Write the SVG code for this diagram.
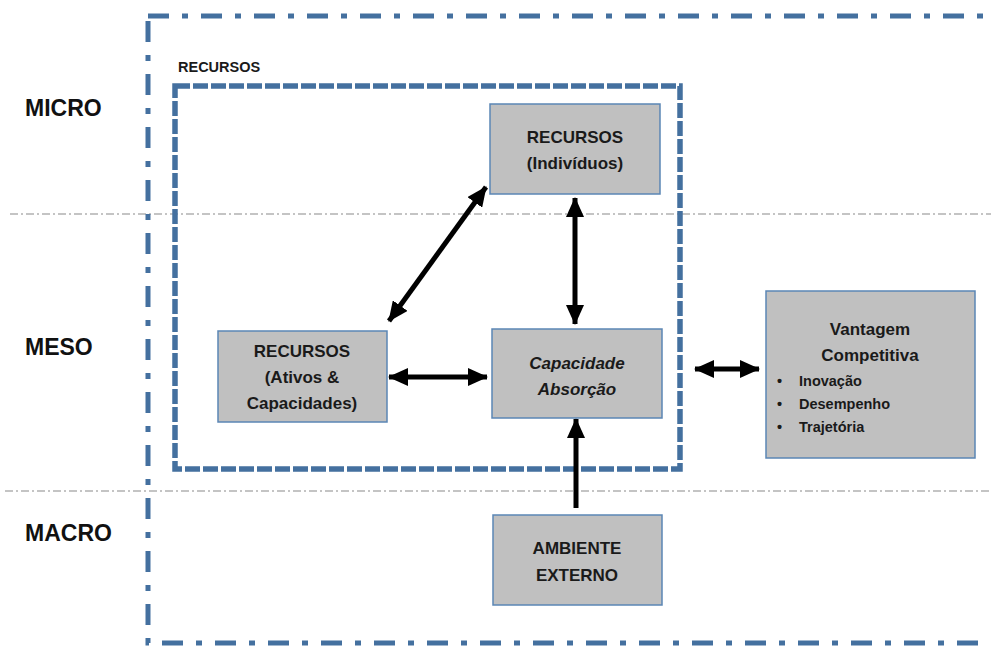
<svg xmlns="http://www.w3.org/2000/svg" width="991" height="648" viewBox="0 0 991 648">
  <style>
    .lvl { font-family: "Liberation Sans", Arial, sans-serif; font-weight: bold; font-size: 23px; fill: #111; }
    .box { fill: #c0c0c0; stroke: #5b86b5; stroke-width: 1.5; }
    .t { font-family: "Liberation Sans", Arial, sans-serif; font-weight: bold; font-size: 17px; fill: #1a1a1a; text-anchor: middle; }
    .ti { font-style: italic; }
    .s { font-family: "Liberation Sans", Arial, sans-serif; font-weight: bold; font-size: 14.5px; fill: #1a1a1a; }
    .arr { stroke: #000; stroke-width: 5; fill: none; }
    .sep { stroke: #8a8a8a; stroke-width: 1.2; stroke-dasharray: 8 3 2 3; fill: none; }
  </style>
  <defs>
    <marker id="ah" viewBox="0 0 20 18" refX="19" refY="9" markerWidth="20" markerHeight="18" markerUnits="userSpaceOnUse" orient="auto-start-reverse">
      <path d="M0,0 L20,9 L0,18 Z" fill="#000"/>
    </marker>
  </defs>

  <!-- separators -->
  <g id="separators">
    <line class="sep" x1="10" y1="214" x2="991" y2="214"/>
    <line class="sep" x1="5" y1="491" x2="991" y2="491"/>
  </g>

  <!-- outer boundary -->
  <rect id="outer" x="148" y="16" width="870" height="627" fill="none" stroke="#44709f" stroke-width="5" stroke-dasharray="21 13 6 13"/>

  <!-- inner RECURSOS boundary -->
  <g id="recursos-group">
    <rect x="175" y="86" width="505" height="383" fill="none" stroke="#44709f" stroke-width="5.5" stroke-dasharray="15 3"/>
    <text class="s" x="178" y="72" font-size="13.5">RECURSOS</text>
  </g>

  <!-- level labels -->
  <g id="levels">
    <text class="lvl" x="25" y="116">MICRO</text>
    <text class="lvl" x="25" y="355">MESO</text>
    <text class="lvl" x="25" y="541">MACRO</text>
  </g>

  <!-- connectors -->
  <g id="connectors">
    <line class="arr" x1="389" y1="321" x2="486" y2="187" marker-start="url(#ah)" marker-end="url(#ah)"/>
    <line class="arr" x1="575" y1="198" x2="575" y2="324" marker-start="url(#ah)" marker-end="url(#ah)"/>
    <line class="arr" x1="389" y1="377" x2="487" y2="377" marker-start="url(#ah)" marker-end="url(#ah)"/>
    <line class="arr" x1="695" y1="369" x2="759" y2="369" marker-start="url(#ah)" marker-end="url(#ah)"/>
    <line class="arr" x1="576" y1="508" x2="576" y2="419" marker-end="url(#ah)"/>
  </g>

  <g id="node-individuos">
    <rect class="box" x="490" y="104" width="170" height="90"/>
    <text class="t" x="575" y="143">RECURSOS</text>
    <text class="t" x="575" y="169">(Indivíduos)</text>
  </g>

  <g id="node-ativos">
    <rect class="box" x="218" y="331" width="169" height="91"/>
    <text class="t" x="302" y="357">RECURSOS</text>
    <text class="t" x="302" y="383">(Ativos &amp;</text>
    <text class="t" x="302" y="409">Capacidades)</text>
  </g>

  <g id="node-capacidade">
    <rect class="box" x="492" y="329" width="170" height="89"/>
    <text class="t ti" x="577" y="369">Capacidade</text>
    <text class="t ti" x="577" y="395">Absorção</text>
  </g>

  <g id="node-vantagem">
    <rect class="box" x="766" y="291" width="209" height="167"/>
    <text class="t" x="870" y="335">Vantagem</text>
    <text class="t" x="870" y="361">Competitiva</text>
    <text class="s" x="777" y="386">•</text>
    <text class="s" x="799" y="386">Inovação</text>
    <text class="s" x="777" y="409">•</text>
    <text class="s" x="799" y="409">Desempenho</text>
    <text class="s" x="777" y="432">•</text>
    <text class="s" x="799" y="432">Trajetória</text>
  </g>

  <g id="node-ambiente">
    <rect class="box" x="493" y="515" width="169" height="90"/>
    <text class="t" x="577" y="554">AMBIENTE</text>
    <text class="t" x="577" y="581">EXTERNO</text>
  </g>
</svg>
